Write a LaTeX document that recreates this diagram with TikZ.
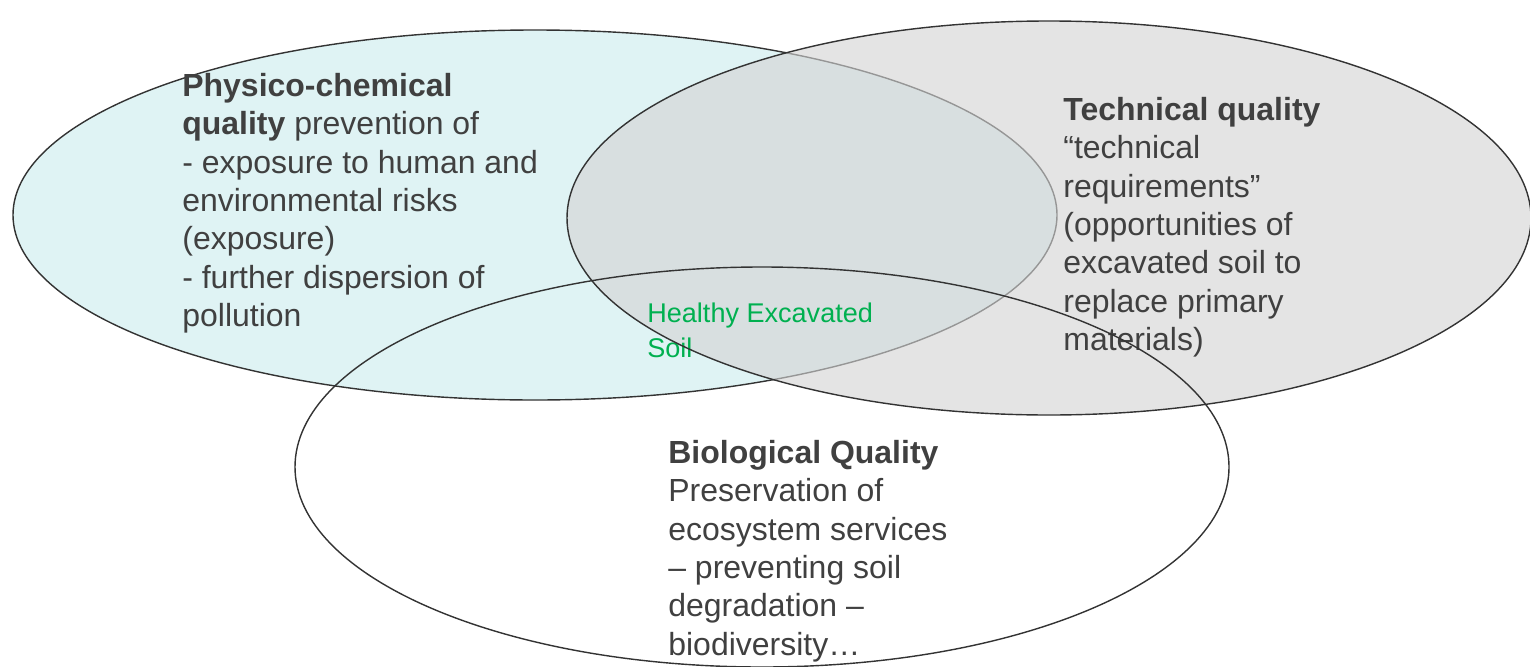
\documentclass[tikz,border=0pt]{standalone}
\usepackage{fontspec}
\setmainfont{Liberation Sans}
\usepackage{tikz}

\definecolor{aqua}{RGB}{223,243,244}
\definecolor{ash}{RGB}{212,212,212}
\definecolor{ink}{RGB}{64,64,64}
\definecolor{leaf}{RGB}{0,176,80}

\tikzset{
	rim/.style={black!80, line width=0.8pt},
	blurb/.style={inner sep=0pt, anchor=north west, align=left, text=ink, font=\fontsize{18.2}{21.8}\selectfont}
}

\begin{document}
\begin{tikzpicture}[x=0.02cm, y=-0.02cm]
		\useasboundingbox (0, 0) rectangle (1530, 666);
		\draw[rim, fill=aqua] (535, 215) circle[x radius=522, y radius=185];
		\fill[ash, opacity=0.62] (1049, 218) circle[x radius=482, y radius=197];
		
		\node[blurb] (phys) at (182, 73) {\textbf{Physico-chemical}\\\textbf{quality} prevention of\\- exposure to human and\\environmental risks\\(exposure)\\- further dispersion of\\pollution};
		\node[blurb] (tech) at (1063, 97) {\textbf{Technical quality}\\“technical\\requirements”\\(opportunities of\\excavated soil to\\replace primary\\materials)};
		\node[blurb] (bio) at (668, 440) {\textbf{Biological Quality}\\Preservation of\\ecosystem services\\– preventing soil\\degradation –\\biodiversity…};
		\node[blurb, text=leaf, font=\fontsize{15.4}{19.9}\selectfont] (core) at (647, 303) {Healthy Excavated\\Soil};
		
		\draw[rim] (1049, 218) circle[x radius=482, y radius=197];
		\draw[rim] (762, 467) circle[x radius=467, y radius=200]; % open outline on top
	\end{tikzpicture}
\end{document}
